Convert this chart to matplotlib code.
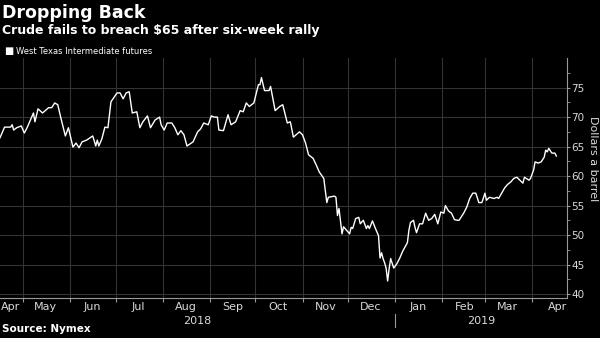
import matplotlib
matplotlib.use("Agg")
from matplotlib import pyplot as plt
import pandas as pd

# WTI front-month futures
dates = [
    "2018-04-16", "2018-04-19", "2018-04-23", "2018-04-24", "2018-04-25", "2018-04-27",
    "2018-04-30", "2018-05-02", "2018-05-04", "2018-05-08", "2018-05-09", "2018-05-11",
    "2018-05-14", "2018-05-18", "2018-05-20", "2018-05-22", "2018-05-24", "2018-05-26",
    "2018-05-29", "2018-05-31", "2018-06-03", "2018-06-05", "2018-06-07", "2018-06-09",
    "2018-06-12", "2018-06-16", "2018-06-18", "2018-06-19", "2018-06-20", "2018-06-22",
    "2018-06-24", "2018-06-26", "2018-06-28", "2018-07-02", "2018-07-04", "2018-07-06",
    "2018-07-08", "2018-07-10", "2018-07-12", "2018-07-15", "2018-07-17", "2018-07-19",
    "2018-07-22", "2018-07-24", "2018-07-27", "2018-07-30", "2018-07-31", "2018-08-02",
    "2018-08-04", "2018-08-07", "2018-08-09", "2018-08-11", "2018-08-13", "2018-08-15",
    "2018-08-17", "2018-08-21", "2018-08-24", "2018-08-26", "2018-08-28", "2018-08-31",
    "2018-09-02", "2018-09-04", "2018-09-06", "2018-09-07", "2018-09-10", "2018-09-13",
    "2018-09-15", "2018-09-18", "2018-09-21", "2018-09-23", "2018-09-25", "2018-09-27",
    "2018-09-30", "2018-10-03", "2018-10-04", "2018-10-05", "2018-10-07", "2018-10-10",
    "2018-10-11", "2018-10-14", "2018-10-17", "2018-10-19", "2018-10-22", "2018-10-24",
    "2018-10-26", "2018-10-30", "2018-11-01", "2018-11-03", "2018-11-05", "2018-11-08",
    "2018-11-10", "2018-11-12", "2018-11-15", "2018-11-17", "2018-11-18", "2018-11-22",
    "2018-11-23", "2018-11-24", "2018-11-25", "2018-11-27", "2018-11-28", "2018-11-30",
    "2018-12-02", "2018-12-03", "2018-12-04", "2018-12-06", "2018-12-08", "2018-12-09",
    "2018-12-11", "2018-12-13", "2018-12-14", "2018-12-15", "2018-12-17", "2018-12-19",
    "2018-12-21", "2018-12-22", "2018-12-23", "2018-12-24", "2018-12-25", "2018-12-26",
    "2018-12-27", "2018-12-28", "2018-12-29", "2018-12-31", "2019-01-02", "2019-01-04",
    "2019-01-06", "2019-01-09", "2019-01-10", "2019-01-11", "2019-01-13", "2019-01-14",
    "2019-01-15", "2019-01-17", "2019-01-19", "2019-01-21", "2019-01-23", "2019-01-25",
    "2019-01-27", "2019-01-29", "2019-01-31", "2019-02-02", "2019-02-03", "2019-02-05",
    "2019-02-07", "2019-02-09", "2019-02-11", "2019-02-12", "2019-02-15", "2019-02-17",
    "2019-02-19", "2019-02-21", "2019-02-23", "2019-02-25", "2019-02-27", "2019-03-01",
    "2019-03-02", "2019-03-04", "2019-03-07", "2019-03-09", "2019-03-10", "2019-03-12",
    "2019-03-14", "2019-03-16", "2019-03-18", "2019-03-20", "2019-03-22", "2019-03-24",
    "2019-03-26", "2019-03-27", "2019-03-30", "2019-03-31", "2019-04-02", "2019-04-03",
    "2019-04-05", "2019-04-07", "2019-04-09", "2019-04-10", "2019-04-11", "2019-04-12",
    "2019-04-14", "2019-04-16", "2019-04-17",
]
prices = [
    66.5, 68.3, 68.3, 68.7, 67.8, 68.2,
    68.5, 67.3, 68.3, 70.7, 69.2, 71.4,
    70.7, 71.6, 71.6, 72.4, 72.1, 69.9,
    66.8, 68.2, 64.9, 65.6, 64.8, 65.8,
    66.1, 66.8, 65.1, 66.1, 65.1, 66.3,
    68.3, 68.2, 72.6, 74.1, 74.1, 73.1,
    74.1, 74.3, 70.7, 70.9, 68.2, 69.2,
    70.2, 68.2, 69.5, 70.0, 68.7, 67.8,
    69.0, 69.0, 68.2, 67.0, 67.7, 67.0,
    65.1, 65.8, 67.5, 68.0, 69.0, 68.7,
    70.2, 70.0, 70.0, 67.8, 67.7, 70.4,
    68.7, 69.2, 71.1, 70.9, 72.4, 71.8,
    72.4, 75.5, 75.5, 76.7, 74.5, 74.5,
    75.2, 71.1, 71.8, 72.1, 69.0, 69.2,
    66.6, 67.5, 67.0, 65.6, 63.6, 63.0,
    61.9, 60.7, 59.6, 55.5, 56.4, 56.6,
    56.4, 53.3, 54.5, 50.2, 51.4, 50.8,
    50.2, 51.3, 51.1, 52.8, 53.0, 51.9,
    52.5, 51.1, 51.6, 51.1, 52.4, 51.1,
    49.9, 46.1, 47.0, 46.0, 45.3, 44.4,
    42.2, 44.3, 46.0, 44.4, 45.1, 46.1,
    47.3, 48.7, 50.8, 52.1, 52.5, 51.3,
    50.4, 51.9, 51.9, 53.7, 52.5, 52.8,
    53.5, 51.9, 53.9, 53.7, 55.0, 54.1,
    53.7, 52.6, 52.5, 52.5, 53.7, 54.7,
    56.2, 57.1, 57.1, 55.5, 55.5, 57.1,
    55.9, 56.4, 56.2, 56.4, 56.2, 57.1,
    58.0, 58.6, 59.0, 59.6, 59.8, 59.3,
    58.8, 59.8, 59.3, 59.6, 61.0, 62.4,
    62.2, 62.4, 63.2, 64.4, 64.1, 64.7,
    63.9, 63.9, 63.4,
]

month_labels = ["Apr", "May", "Jun", "Jul", "Aug", "Sep", "Oct",
                "Nov", "Dec", "Jan", "Feb", "Mar", "Apr"]
years = ["2018", "2019"]
y_ticks = [40, 45, 50, 55, 60, 65, 70, 75]
y_minor = [42.5, 47.5, 52.5, 57.5, 62.5, 67.5, 72.5, 77.5]

dts = pd.to_datetime(dates)
x0 = pd.Timestamp("2018-04-16")
x1 = pd.Timestamp("2019-04-24")

bg = "black"
grid_c = "#333333"
text_c = "#d9d9d9"
axis_c = "#999999"

fig = plt.figure(figsize=(6, 3.38), dpi=100, facecolor=bg)
ax = fig.add_axes([0.0, 0.118, 0.945, 0.71])
ax.set_facecolor(bg)

ax.plot(dts, prices, color="white", lw=1.0, solid_joinstyle="round")

ax.set_xlim(x0, x1)
ax.set_ylim(39.3, 80)

# month boundaries as gridlines, labels mid-month
month_starts = pd.date_range("2018-05-01", "2019-04-01", freq="MS")
ax.set_xticks(month_starts)
ax.set_xticklabels([])
mid_months = list(pd.date_range("2018-05-01", "2019-03-01", freq="MS") + pd.Timedelta(days=15))
label_pos = [pd.Timestamp("2018-04-23")] + mid_months + [pd.Timestamp("2019-04-18")]
ax.set_xticks(label_pos, minor=True)
ax.set_xticklabels(month_labels, minor=True)
ax.tick_params(axis="x", which="minor", length=0, pad=3, labelsize=8, labelcolor=text_c)
ax.tick_params(axis="x", which="major", length=3, color=axis_c, direction="out")

ax.yaxis.tick_right()
ax.set_yticks(y_ticks)
ax.set_yticks(y_minor, minor=True)
ax.tick_params(axis="y", which="major", length=2, color=axis_c, labelsize=7.5,
               labelcolor=text_c, pad=1)
ax.tick_params(axis="y", which="minor", length=2, color=axis_c)
fig.text(0.988, 0.532, "Dollars a barrel", color=text_c, fontsize=8, rotation=270,
         ha="center", va="center")

ax.grid(True, which="major", color=grid_c, lw=0.8)
for s in ["top", "left"]:
    ax.spines[s].set_visible(False)
for s in ["bottom", "right"]:
    ax.spines[s].set_color(axis_c)
    ax.spines[s].set_linewidth(0.8)

# year labels centred under each year
jan1 = pd.Timestamp("2019-01-01")
trans = ax.get_xaxis_transform()
ax.text(x0 + (jan1 - x0) / 2, -0.075, years[0], transform=trans, ha="center", va="top",
        color=text_c, fontsize=8)
ax.text(jan1 + (x1 - jan1) / 2, -0.075, years[1], transform=trans, ha="center", va="top",
        color=text_c, fontsize=8)
ax.plot([jan1, jan1], [-0.065, -0.12], transform=trans, color=axis_c, lw=0.8, clip_on=False)

fig.text(0.003, 0.988, "Dropping Back", color="white", fontsize=12.5, fontweight="bold", va="top")
fig.text(0.003, 0.93, "Crude fails to breach $65 after six-week rally", color="white",
         fontsize=9, fontweight="bold", va="top")
fig.text(0.007, 0.85, "\u25a0", color="white", fontsize=7, va="center")
fig.text(0.026, 0.848, "West Texas Intermediate futures", color="white", fontsize=6, va="center")
fig.text(0.003, 0.012, "Source: Nymex", color="white", fontsize=7.5, fontweight="bold", va="bottom")

fig.savefig("out.png", dpi=100, facecolor=bg)
